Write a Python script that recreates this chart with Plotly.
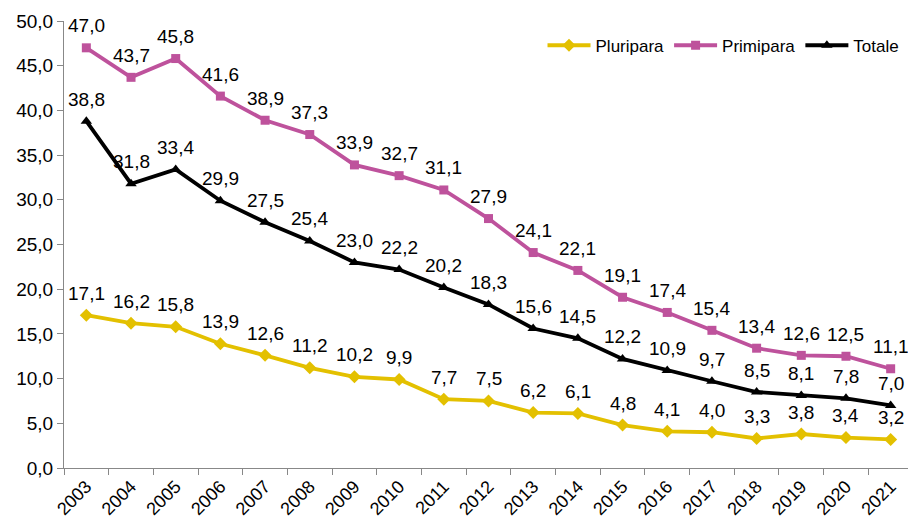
import plotly.graph_objects as go

# data
anni = [str(a) for a in range(2003, 2022)]
pluripara = [17.1, 16.2, 15.8, 13.9, 12.6, 11.2, 10.2, 9.9, 7.7, 7.5, 6.2, 6.1, 4.8, 4.1, 4.0, 3.3, 3.8, 3.4, 3.2]
primipara = [47.0, 43.7, 45.8, 41.6, 38.9, 37.3, 33.9, 32.7, 31.1, 27.9, 24.1, 22.1, 19.1, 17.4, 15.4, 13.4, 12.6, 12.5, 11.1]
totale = [38.8, 31.8, 33.4, 29.9, 27.5, 25.4, 23.0, 22.2, 20.2, 18.3, 15.6, 14.5, 12.2, 10.9, 9.7, 8.5, 8.1, 7.8, 7.0]

serie = [
    ("Pluripara", pluripara, "#E3C000", "diamond", 10),
    ("Primipara", primipara, "#BE529C", "square", 9),
    ("Totale", totale, "#000000", "triangle-up", 10),
]

fig = go.Figure()
annotations = []
for nome, valori, colore, simbolo, dim in serie:
    fig.add_trace(go.Scatter(
        x=anni, y=valori, name=nome, mode="lines+markers",
        line=dict(color=colore, width=3.8),
        marker=dict(symbol=simbolo, size=dim, color=colore),
    ))
    # etichette sopra i punti (indice di categoria)
    for i, v in enumerate(valori):
        annotations.append(dict(
            x=i, y=v, text=f"{v:.1f}".replace(".", ","), showarrow=False,
            yshift=22, font=dict(size=19, color="#000000"),
        ))

# la pagina ha 8px di margine sul body: la figura è ridotta di conseguenza
fig.update_layout(
    width=908, height=521,
    margin=dict(l=56, r=3, t=13, b=61),
    plot_bgcolor="white", paper_bgcolor="white",
    font=dict(family="Liberation Sans, Arial", color="#000000"),
    separators=",.",
    annotations=annotations,
    legend=dict(orientation="h", x=0.99, y=0.985, xanchor="right", yanchor="top",
                itemwidth=43, font=dict(size=17), bgcolor="rgba(0,0,0,0)"),
    showlegend=True,
)
fig.update_xaxes(
    type="category", range=[-0.5, len(anni) - 0.5],
    showgrid=False, showline=True, linecolor="#888888", linewidth=1,
    ticks="outside", tickson="boundaries", ticklen=6, tickcolor="#888888",
    tickangle=-45, tickfont=dict(size=18),
)
fig.update_yaxes(
    range=[0, 50], dtick=5, tickformat=".1f", showgrid=False,
    showline=True, linecolor="#888888", linewidth=1,
    ticks="outside", ticklen=6, tickcolor="#888888", tickfont=dict(size=19),
    zeroline=False,
)

fig.write_html("out.html")
